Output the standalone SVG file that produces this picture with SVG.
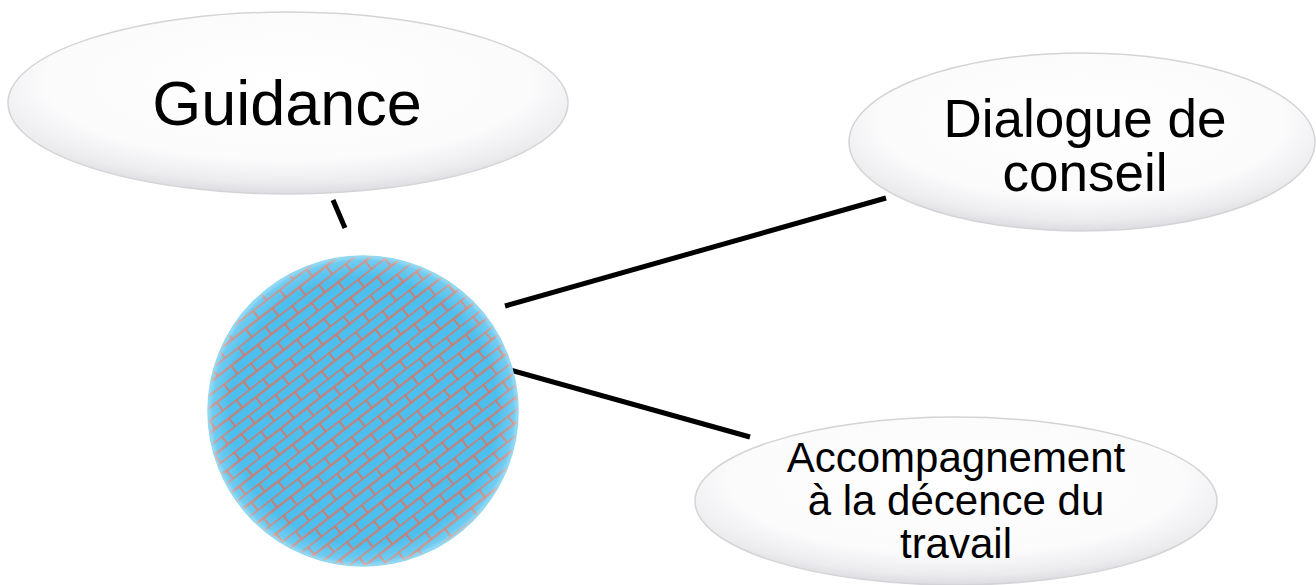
<svg xmlns="http://www.w3.org/2000/svg" width="1316" height="585" viewBox="0 0 1316 585">
<defs>
<radialGradient id="oval" cx="0.5" cy="0.38" r="0.62">
<stop offset="0" stop-color="#ffffff"/>
<stop offset="0.7" stop-color="#fbfbfc"/>
<stop offset="0.9" stop-color="#ececef"/>
<stop offset="1" stop-color="#dcdce0"/>
</radialGradient>
<pattern id="brick" width="34" height="20" patternUnits="userSpaceOnUse" patternTransform="rotate(-38)">
<rect width="34" height="20" fill="#4cbfee"/>
<path d="M0 0.5H34M0 10.5H34M8 0V10.5M25 10.5V20" stroke="#d47868" stroke-width="1.8" fill="none"/>
</pattern>
<radialGradient id="ballShade" cx="0.5" cy="0.5" r="0.5">
<stop offset="0.86" stop-color="#ffffff" stop-opacity="0"/>
<stop offset="0.97" stop-color="#ffffff" stop-opacity="0.2"/>
<stop offset="1" stop-color="#ffffff" stop-opacity="0.45"/>
</radialGradient>
</defs>
<style>
.oval{fill:url(#oval);stroke:#d4d4d8;stroke-width:1.5}
.lbl{font-family:"Liberation Sans",Arial,sans-serif;fill:#000;text-anchor:middle}
.conn{stroke:#000;stroke-width:5;fill:none}
</style>
<rect width="1316" height="585" fill="#ffffff"/>
<g id="connectors">
<line class="conn" x1="333" y1="200" x2="345" y2="228"/>
<line class="conn" x1="505" y1="306" x2="886" y2="198"/>
<line class="conn" x1="507" y1="369" x2="750" y2="437"/>
</g>
<g id="center">
<circle cx="363" cy="411" r="155" fill="url(#brick)"/>
<circle cx="363" cy="411" r="155" fill="url(#ballShade)" stroke="#8fd8f0" stroke-width="1.5"/>
</g>
<g id="guidance">
<ellipse class="oval" cx="288" cy="103" rx="280" ry="91"/>
<text class="lbl" x="287" y="125" font-size="63">Guidance</text>
</g>
<g id="dialogue">
<ellipse class="oval" cx="1082" cy="142" rx="233" ry="89"/>
<text class="lbl" x="1085" y="137" font-size="53">Dialogue de</text>
<text class="lbl" x="1085" y="191" font-size="53">conseil</text>
</g>
<g id="accompagnement">
<ellipse class="oval" cx="956" cy="501" rx="261" ry="84"/>
<text class="lbl" x="956" y="472" font-size="42">Accompagnement</text>
<text class="lbl" x="956" y="515" font-size="42">à la décence du</text>
<text class="lbl" x="956" y="558" font-size="42">travail</text>
</g>
</svg>
